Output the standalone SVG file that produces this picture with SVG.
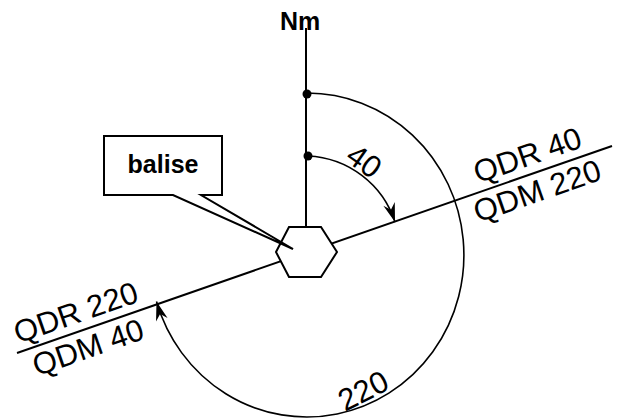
<svg xmlns="http://www.w3.org/2000/svg" width="621" height="419" viewBox="0 0 621 419">
<style>
.ln{fill:none;stroke:#000;stroke-width:2}
.arc{fill:none;stroke:#000;stroke-width:1.6}
.t{font-family:"Liberation Sans",Arial,sans-serif;font-size:31px;fill:#000}
.b{font-family:"Liberation Sans",Arial,sans-serif;font-size:25px;font-weight:bold;fill:#000}
</style>
<defs>
<marker id="ah" markerUnits="userSpaceOnUse" viewBox="-21 -8 23 16" refX="0" refY="0" markerWidth="23" markerHeight="16" orient="auto">
<path d="M0,0 L-19,-6 L-13,0 L-19,6 Z" fill="#000"/>
</marker>
</defs>
<rect width="621" height="419" fill="#fff"/>
<g id="connectors">
<line class="ln" x1="17" y1="353" x2="612" y2="146"/>
<line class="ln" x1="306" y1="28" x2="306" y2="228"/>
<path class="arc" d="M307,93 A157,162 0 1,1 156.5,301.5" marker-end="url(#ah)"/>
<path class="arc" d="M308,156 A96,96 0 0,1 395,222" marker-end="url(#ah)"/>
<circle cx="307" cy="94" r="4.5" fill="#000"/>
<circle cx="308" cy="156" r="4.5" fill="#000"/>
</g>
<g id="beacon">
<polygon class="ln" style="fill:#fff" points="276,252 289,227 321,227 337,252 321,277 289,277"/>
</g>
<g id="balise">
<path class="ln" style="fill:#fff" d="M104,136 H222 V195 H201 L293,249 L173,195 H104 Z"/>
<text class="b" x="163" y="173" text-anchor="middle">balise</text>
</g>
<g id="north">
<text class="b" x="280" y="30">Nm</text>
</g>
<g id="labels">
<g transform="translate(306,252) rotate(-19.2)">
<text class="t" x="185" y="-8">QDR 40</text>
<text class="t" x="172" y="29">QDM 220</text>
<text class="t" x="-302" y="-8">QDR 220</text>
<text class="t" x="-295" y="29">QDM 40</text>
</g>
<text class="t" transform="translate(344,160) rotate(35)">40</text>
<text class="t" transform="translate(345,412) rotate(-27)">220</text>
</g>
</svg>
